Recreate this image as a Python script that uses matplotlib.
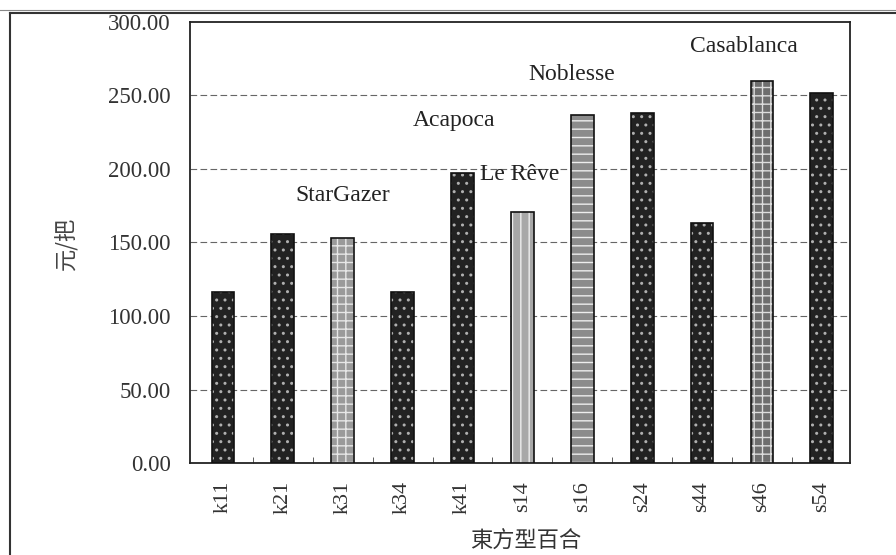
import matplotlib
matplotlib.use("Agg")
import matplotlib.pyplot as plt
from matplotlib.lines import Line2D

categories = ["k11", "k21", "k31", "k34", "k41", "s14", "s16", "s24", "s44", "s46", "s54"]
values = [116, 156, 153, 116, 197, 171, 237, 238, 163, 260, 252]
styles = ["dark", "dark", "grid", "dark", "dark", "vert", "horiz", "dark", "dark", "grid2", "dark"]
annot_names = ["StarGazer", "Acapoca", "Le Rêve", "Noblesse", "Casablanca"]
annot_pos = [(2.0, 182), (3.85, 233), (4.95, 196), (5.82, 264), (8.7, 283)]
yticks = [0, 50, 100, 150, 200, 250, 300]

serif = ["Liberation Serif", "DejaVu Serif"]
cjk = ["Noto Sans CJK TC", "DejaVu Sans"]

fig = plt.figure(figsize=(8.96, 5.55), dpi=100)
ax = fig.add_axes([190/896, 1-463/555, 660/896, 441/555])

style_map = {
    "dark": dict(face="#222222", hatch="..", hc="#b0b0b0"),
    "grid": dict(face="#9a9a9a", hatch="++", hc="#e6e6e6"),
    "vert": dict(face="#a8a8a8", hatch="||", hc="#eeeeee"),
    "horiz": dict(face="#8c8c8c", hatch="--", hc="#eeeeee"),
    "grid2": dict(face="#6e6e6e", hatch="++", hc="#dddddd"),
}

x = list(range(len(categories)))
for xi, v, s in zip(x, values, styles):
    st = style_map[s]
    ax.bar(xi, v, width=0.38, color=st["face"], hatch=st["hatch"],
           edgecolor=st["hc"], linewidth=0, zorder=3)
    ax.bar(xi, v, width=0.38, fill=False, edgecolor="#111111", linewidth=1.2, zorder=4)

ax.set_xlim(-0.55, 10.47)
ax.set_ylim(0, 300)
ax.set_yticks(yticks)
ax.set_yticklabels([f"{t:.2f}" for t in yticks], fontfamily=serif, fontsize=16.5, color="#333333")
ax.set_xticks(x)
ax.set_xticklabels(categories, rotation=90, fontfamily=serif, fontsize=16, color="#333333")
ax.tick_params(axis="x", length=0, pad=13)
ax.tick_params(axis="y", length=0, pad=14)
ax.set_xticks([i + 0.5 for i in range(len(categories) - 1)], minor=True)
ax.tick_params(axis="x", which="minor", direction="in", length=4, color="#444444")

for t in yticks[1:-1]:
    ax.axhline(t, color="#666666", linestyle=(0, (6, 3)), linewidth=0.8, zorder=1)

for sp in ax.spines.values():
    sp.set_color("#222222")
    sp.set_linewidth(1.3)

for name, (px, py) in zip(annot_names, annot_pos):
    ax.text(px, py, name, fontfamily=serif, fontsize=17, color="#222222", ha="center", va="center")

fig.text(67/896, 1-243/555, "元/把", rotation=90, ha="center", va="center",
         fontfamily=cjk, fontsize=16, color="#444444")
fig.text(526/896, 1-541/555, "東方型百合", ha="center", va="center",
         fontfamily=cjk, fontsize=16, color="#333333")

# outer frame
fig.add_artist(Line2D([10/896, 10/896], [0, 1-13/555], transform=fig.transFigure, color="#333333", linewidth=1.5))
fig.add_artist(Line2D([10/896, 1], [1-13/555, 1-13/555], transform=fig.transFigure, color="#333333", linewidth=1.5))
fig.add_artist(Line2D([0, 1], [1-10/555, 1-10/555], transform=fig.transFigure, color="#888888", linewidth=0.8))

fig.savefig("out.png", dpi=100)
